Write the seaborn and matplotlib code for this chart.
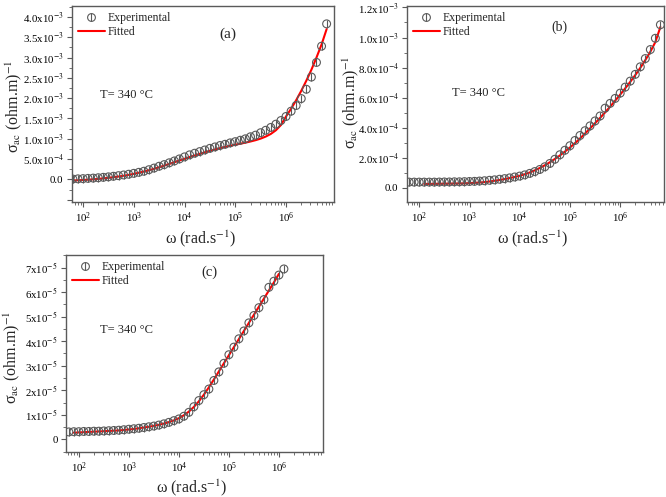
import numpy as np
import matplotlib.pyplot as plt
import seaborn as sns
from matplotlib.ticker import MultipleLocator, AutoMinorLocator, FuncFormatter
from matplotlib.lines import Line2D
from matplotlib.legend_handler import HandlerTuple

# angular frequency (rad/s), shared by all three panels
omega = [62.8, 79.1, 99.6, 125, 158, 199, 250, 315, 396, 499,
         628, 791, 996, 1254, 1578, 1987, 2501, 3149, 3964, 4991,
         6283, 7910, 9958, 12540, 15780, 19870, 25010, 31490, 39640, 49910,
         62830, 79100, 99580, 125400, 157800, 198700, 250100, 314900, 396400, 499100,
         628300, 791000, 995800, 1254000, 1578000, 1987000, 2501000, 3149000, 3964000, 4991000,
         6283000]

# (a)
exp_a = [1.0e-5, 1.5e-5, 2.0e-5, 2.6e-5, 3.3e-5, 4.2e-5, 5.2e-5, 6.4e-5, 7.8e-5, 9.3e-5,
         1.10e-4, 1.28e-4, 1.50e-4, 1.75e-4, 2.02e-4, 2.40e-4, 2.80e-4, 3.25e-4, 3.65e-4, 4.10e-4,
         4.55e-4, 5.05e-4, 5.55e-4, 6.05e-4, 6.45e-4, 6.85e-4, 7.25e-4, 7.65e-4, 8.00e-4, 8.35e-4,
         8.65e-4, 9.00e-4, 9.30e-4, 9.65e-4, 1.00e-3, 1.05e-3, 1.09e-3, 1.15e-3, 1.21e-3, 1.28e-3,
         1.36e-3, 1.45e-3, 1.55e-3, 1.68e-3, 1.82e-3, 1.99e-3, 2.22e-3, 2.52e-3, 2.88e-3, 3.28e-3,
         3.83e-3]
fit_a = [-2.5e-5, -2.0e-5, -1.4e-5, -0.6e-5, 0.3e-5, 1.4e-5, 2.6e-5, 4.0e-5, 5.5e-5, 7.2e-5,
         9.0e-5, 1.12e-4, 1.38e-4, 1.65e-4, 1.95e-4, 2.27e-4, 2.62e-4, 3.00e-4, 3.40e-4, 3.82e-4,
         4.24e-4, 4.66e-4, 5.08e-4, 5.50e-4, 5.90e-4, 6.30e-4, 6.68e-4, 7.04e-4, 7.38e-4, 7.70e-4,
         8.00e-4, 8.28e-4, 8.55e-4, 8.80e-4, 9.06e-4, 9.34e-4, 9.66e-4, 1.005e-3, 1.055e-3, 1.12e-3,
         1.21e-3, 1.34e-3, 1.55e-3, 1.74e-3, 1.95e-3, 2.18e-3, 2.43e-3, 2.70e-3, 3.00e-3, 3.32e-3,
         3.70e-3]

# (b)
exp_b = [3.8e-5, 3.8e-5, 3.8e-5, 3.8e-5, 3.8e-5, 3.8e-5, 3.85e-5, 3.9e-5, 3.9e-5, 4.0e-5,
         4.0e-5, 4.1e-5, 4.2e-5, 4.3e-5, 4.5e-5, 4.7e-5, 5.0e-5, 5.3e-5, 5.7e-5, 6.1e-5,
         6.6e-5, 7.2e-5, 7.8e-5, 8.6e-5, 9.6e-5, 1.08e-4, 1.22e-4, 1.40e-4, 1.62e-4, 1.90e-4,
         2.20e-4, 2.50e-4, 2.80e-4, 3.15e-4, 3.48e-4, 3.80e-4, 4.12e-4, 4.45e-4, 4.78e-4, 5.30e-4,
         5.62e-4, 5.95e-4, 6.30e-4, 6.70e-4, 7.10e-4, 7.55e-4, 8.05e-4, 8.60e-4, 9.20e-4, 9.95e-4,
         1.085e-3]
fit_b = [2.6e-5, 2.6e-5, 2.65e-5, 2.7e-5, 2.75e-5, 2.8e-5, 2.85e-5, 2.9e-5, 2.95e-5,
         3.1e-5, 3.3e-5, 3.5e-5, 3.8e-5, 4.2e-5, 4.7e-5, 5.2e-5, 5.8e-5, 6.5e-5,
         7.2e-5, 8.0e-5, 9.0e-5, 1.02e-4, 1.16e-4, 1.32e-4, 1.50e-4, 1.70e-4, 1.92e-4,
         2.15e-4, 2.41e-4, 2.68e-4, 2.97e-4, 3.28e-4, 3.61e-4, 3.95e-4, 4.30e-4, 4.65e-4,
         5.02e-4, 5.40e-4, 5.80e-4, 6.20e-4, 6.62e-4, 7.05e-4, 7.50e-4, 7.98e-4, 8.50e-4,
         9.05e-4, 9.70e-4, 1.07e-3]

# (c)
exp_c = [3.0e-6, 3.1e-6, 3.1e-6, 3.2e-6, 3.2e-6, 3.3e-6, 3.3e-6, 3.4e-6, 3.5e-6, 3.6e-6,
         3.7e-6, 3.9e-6, 4.1e-6, 4.3e-6, 4.5e-6, 4.8e-6, 5.1e-6, 5.4e-6, 5.8e-6, 6.3e-6,
         6.9e-6, 7.6e-6, 8.3e-6, 9.4e-6, 1.10e-5, 1.33e-5, 1.58e-5, 1.82e-5, 2.05e-5, 2.40e-5,
         2.75e-5, 3.10e-5, 3.45e-5, 3.76e-5, 4.10e-5, 4.42e-5, 4.75e-5, 5.05e-5, 5.37e-5, 5.70e-5,
         6.20e-5, 6.45e-5, 6.70e-5, 6.95e-5]
fit_c = [2.7e-6, 2.8e-6, 2.9e-6, 3.0e-6, 3.1e-6, 3.2e-6, 3.3e-6, 3.4e-6, 3.5e-6,
         3.6e-6, 3.8e-6, 4.0e-6, 4.2e-6, 4.5e-6, 4.8e-6, 5.1e-6, 5.5e-6, 5.9e-6,
         6.4e-6, 7.0e-6, 7.7e-6, 8.6e-6, 9.8e-6, 1.13e-5, 1.32e-5, 1.55e-5, 1.82e-5,
         2.12e-5, 2.44e-5, 2.77e-5, 3.10e-5, 3.43e-5, 3.76e-5, 4.09e-5, 4.42e-5, 4.75e-5,
         5.08e-5, 5.41e-5, 5.74e-5, 6.07e-5, 6.40e-5, 6.75e-5]

sns.set_style("ticks")
plt.rcParams['font.family'] = ['Liberation Serif', 'DejaVu Serif']
plt.rcParams['mathtext.fontset'] = 'stix'

GREY = '#5a5a5a'


def sci_fmt(decimals):
    def f(v, pos):
        if v < -1e-12:
            return ""
        if abs(v) < 1e-12:
            return "0.0" if decimals else "0"
        e = int(np.floor(np.log10(abs(v)) + 1e-9))
        m = v / 10**e
        return f"{m:.{decimals}f}x10$^{{{e}}}$"
    return FuncFormatter(f)


def panel(ax, w_exp, y_exp, w_fit, y_fit, xlim, ylim, step, decimals,
          tag, tag_xy, tag_size, t_xy, ylab_xy, xlab_xy):
    ax.set_xscale('log')
    sns.lineplot(x=w_fit, y=y_fit, color='red', lw=1.5, ax=ax, zorder=2)
    sns.scatterplot(x=w_exp, y=y_exp, marker='o', s=32, facecolor='none',
                    edgecolor=GREY, linewidth=0.8, ax=ax, zorder=3)
    sns.scatterplot(x=w_exp, y=y_exp, marker='|', s=32, color=GREY,
                    linewidth=0.8, ax=ax, zorder=3)
    ax.set_xlim(*xlim)
    ax.set_ylim(*ylim)
    ax.yaxis.set_major_locator(MultipleLocator(step))
    ax.yaxis.set_minor_locator(AutoMinorLocator(2))
    ax.yaxis.set_major_formatter(sci_fmt(decimals))
    ax.tick_params(which='both', direction='out', colors='black', labelsize=7.8, pad=2.5)
    ax.tick_params(which='major', length=3.5, width=0.8, color=GREY)
    ax.tick_params(which='minor', length=2, width=0.6, color=GREY)
    for s in ax.spines.values():
        s.set_visible(True)
        s.set_color(GREY)
        s.set_linewidth(1.0)
    ax.set_xlabel("ω (rad.s$^{-1}$)", fontsize=11.5)
    ax.set_ylabel("σ$_{\\mathrm{ac}}$ (ohm.m)$^{-1}$", fontsize=11.5)
    ax.yaxis.set_label_coords(*ylab_xy)
    ax.xaxis.set_label_coords(*xlab_xy)

    h_c = Line2D([], [], marker='o', ls='none', mfc='none', mec=GREY, mew=0.8, ms=5.6)
    h_v = Line2D([], [], marker='|', ls='none', mec=GREY, mew=0.8, ms=5.6)
    h_f = Line2D([], [], color='red', lw=1.5)
    ax.legend([(h_c, h_v), h_f], ['Experimental', 'Fitted'],
              handler_map={tuple: HandlerTuple(ndivide=1)},
              loc='upper left', frameon=False, fontsize=8.5, handlelength=2.3,
              handletextpad=0.25, borderaxespad=0.1, labelspacing=0.2)
    ax.text(tag_xy[0], tag_xy[1], tag, transform=ax.transAxes, fontsize=tag_size,
            ha='center', va='center')
    ax.text(t_xy[0], t_xy[1], "T= 340 °C", transform=ax.transAxes, fontsize=9,
            ha='left', va='center')


fig = plt.figure(figsize=(6.66, 4.97), dpi=100)
ax_a = fig.add_axes([0.108, 0.594, 0.394, 0.394])
ax_b = fig.add_axes([0.611, 0.594, 0.386, 0.394])
ax_c = fig.add_axes([0.099, 0.090, 0.386, 0.397])

panel(ax_a, omega, exp_a, omega, fit_a, (10**1.78, 10**6.95), (-5.5e-4, 4.27e-3),
      5e-4, 1, "(a)", (0.595, 0.857), 11, (0.107, 0.546), (-0.183, 0.49), (0.49, -0.138))
panel(ax_b, omega, exp_b, omega[3:], fit_b, (10**1.754, 10**6.87), (-9.3e-5, 1.21e-3),
      2e-4, 1, "(b)", (0.595, 0.893), 10, (0.175, 0.556), (-0.178, 0.51), (0.49, -0.138))
panel(ax_c, omega[:44], exp_c, omega[1:43], fit_c, (10**1.74, 10**6.88), (-5.3e-6, 7.52e-5),
      1e-5, 0, "(c)", (0.56, 0.91), 10.5, (0.132, 0.62), (-0.171, 0.482), (0.49, -0.13))

fig.savefig("out.png", dpi=100)
